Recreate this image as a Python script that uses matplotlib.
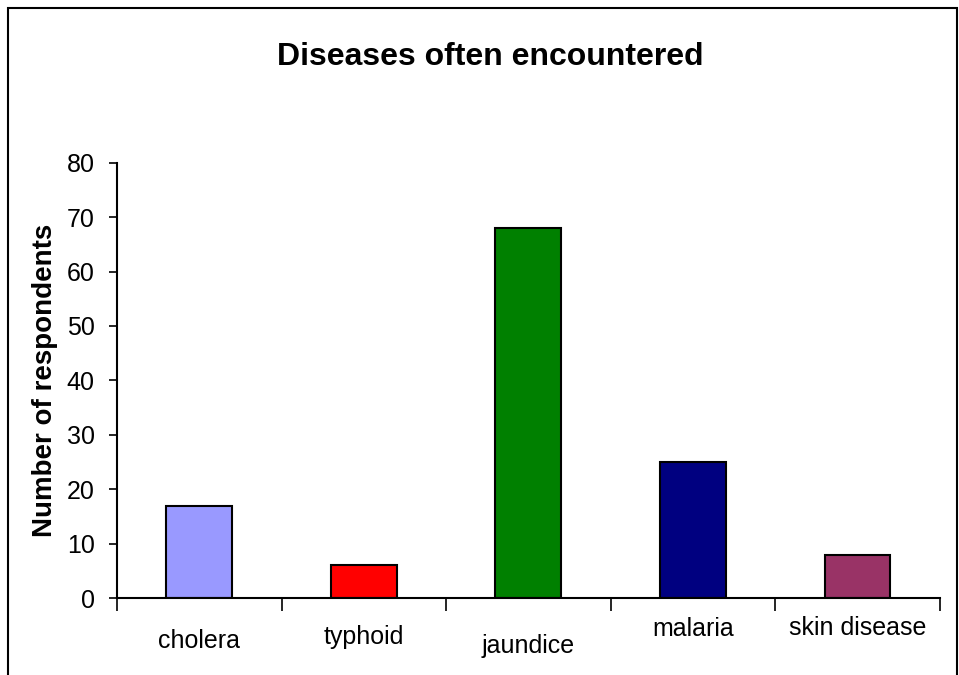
import matplotlib.pyplot as plt
import matplotlib.patches as patches
import numpy as np

plt.rcParams['font.family'] = ['Liberation Sans', 'DejaVu Sans']

diseases = ["cholera", "typhoid", "jaundice", "malaria", "skin disease"]
respondents = [17, 6, 68, 25, 8]
bar_colors = ["#9999FF", "#FF0000", "#008000", "#000080", "#993366"]

# Excel-style staggered category labels (axes fraction below the axis)
label_y = [-0.099, -0.090, -0.110, -0.071, -0.069]

fig = plt.figure(figsize=(9.59, 6.75), dpi=100)
ax = fig.add_axes([0.122, 0.114, 0.858, 0.645])

x = np.arange(len(diseases))
ax.bar(x, respondents, width=0.4, color=bar_colors, edgecolor="black", linewidth=1.5)

ax.set_xlim(-0.5, len(diseases) - 0.5)
ax.set_ylim(0, 80)
ax.set_yticks(np.arange(0, 81, 10))
ax.tick_params(axis="y", labelsize=18, length=6, width=1.2, direction="out", pad=10)

# separators between categories, labels placed manually
ax.set_xticks(np.arange(-0.5, len(diseases), 1.0))
ax.set_xticklabels([])
ax.tick_params(axis="x", length=9, width=1.2, direction="out")
for i, name in enumerate(diseases):
    ax.text(i, label_y[i], name, transform=ax.get_xaxis_transform(),
            ha="center", va="center", fontsize=18)

for side in ["top", "right"]:
    ax.spines[side].set_visible(False)
for side in ["left", "bottom"]:
    ax.spines[side].set_linewidth(1.5)

ax.set_ylabel("Number of respondents", fontsize=20, fontweight="bold")
ax.yaxis.set_label_coords(-0.072, 0.5)
fig.text(0.511, 0.9156, "Diseases often encountered", ha="center", va="center",
         fontsize=23, fontweight="bold")

# outer chart border
fig.patches.append(patches.Rectangle((8 / 959, -0.1), 949 / 959, 1.1 - 8 / 675,
                                     transform=fig.transFigure, fill=False,
                                     edgecolor="black", linewidth=1.5))

fig.savefig("out.png", dpi=100)
